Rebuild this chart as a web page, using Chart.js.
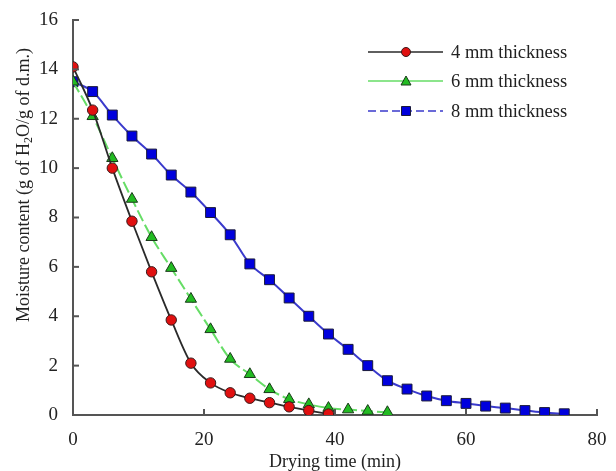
<!DOCTYPE html>
<html lang="en">
<head>
<meta charset="UTF-8">
<title>Drying curves</title>
<script src="https://cdn.jsdelivr.net/npm/chart.js"></script>
<style>
  body { margin: 0; background: #fff; }
  #wrap { width: 616px; height: 471px; }
</style>
</head>
<body>
<div id="wrap"><canvas id="dryChart" width="616" height="471"></canvas></div>
<script>
// drying time (min) and moisture content (g H2O / g d.m.)
var times4 = [0, 3, 6, 9, 12, 15, 18, 21, 24, 27, 30, 33, 36, 39];
var moisture4 = [14.1, 12.35, 10.0, 7.85, 5.8, 3.85, 2.1, 1.3, 0.9, 0.68, 0.5, 0.33, 0.18, 0.04];

var times6 = [0, 3, 6, 9, 12, 15, 18, 21, 24, 27, 30, 33, 36, 39, 42, 45, 48];
var moisture6 = [13.5, 12.1, 10.4, 8.75, 7.2, 5.95, 4.7, 3.47, 2.27, 1.65, 1.04, 0.64, 0.43, 0.28, 0.22, 0.16, 0.11];

var times8 = [0, 3, 6, 9, 12, 15, 18, 21, 24, 27, 30, 33, 36, 39, 42, 45, 48, 51, 54, 57, 60, 63, 66, 69, 72, 75];
var moisture8 = [13.5, 13.1, 12.15, 11.3, 10.57, 9.72, 9.03, 8.2, 7.3, 6.12, 5.48, 4.74, 4.0, 3.28, 2.66, 2.0, 1.39, 1.05, 0.77, 0.58, 0.47, 0.36, 0.28, 0.18, 0.1, 0.05];

var seriesNames = ['4 mm thickness', '6 mm thickness', '8 mm thickness'];
var xTicks = [0, 20, 40, 60, 80];
var yTicks = [0, 2, 4, 6, 8, 10, 12, 14, 16];

var serif = '"Liberation Serif", "Times New Roman", serif';

function pairs(xs, ys) {
    return xs.map(function (x, i) { return { x: x, y: ys[i] }; });
}

// inward ticks, rotated y title with subscript, and the line+marker legend
var extras = {
    id: 'extras',
    afterDraw: function (chart) {
        var ctx = chart.ctx;
        var xs = chart.scales.x, ys = chart.scales.y;
        var area = chart.chartArea;
        ctx.save();
        ctx.strokeStyle = '#555';
        ctx.lineWidth = 2;
        xTicks.forEach(function (v) {
            var px = xs.getPixelForValue(v);
            ctx.beginPath(); ctx.moveTo(px, area.bottom); ctx.lineTo(px, area.bottom - 6); ctx.stroke();
        });
        yTicks.forEach(function (v) {
            var py = ys.getPixelForValue(v);
            ctx.beginPath(); ctx.moveTo(area.left, py); ctx.lineTo(area.left + 6, py); ctx.stroke();
        });
        ctx.restore();

        // y axis title
        ctx.save();
        ctx.translate(24, 185);
        ctx.rotate(-Math.PI / 2);
        ctx.fillStyle = '#222';
        ctx.textBaseline = 'middle';
        var big = '18px ' + serif, small = '12px ' + serif;
        var p1 = 'Moisture content (g of H', p2 = '2', p3 = 'O/g of d.m.)';
        ctx.font = big; var w1 = ctx.measureText(p1).width, w3 = ctx.measureText(p3).width;
        ctx.font = small; var w2 = ctx.measureText(p2).width;
        var start = -(w1 + w2 + w3) / 2;
        ctx.textAlign = 'left';
        ctx.font = big; ctx.fillText(p1, start, 0);
        ctx.font = small; ctx.fillText(p2, start + w1, 5);
        ctx.font = big; ctx.fillText(p3, start + w1 + w2, 0);
        ctx.restore();

        // legend
        var rows = [52, 81, 111];
        ctx.save();
        chart.data.datasets.forEach(function (ds, i) {
            var y = rows[i];
            ctx.strokeStyle = ds.borderColor;
            ctx.lineWidth = 1.5;
            ctx.setLineDash(i === 2 ? [8, 4] : []);
            ctx.beginPath(); ctx.moveTo(368, y); ctx.lineTo(443, y); ctx.stroke();
            ctx.setLineDash([]);
            ctx.fillStyle = ds.pointBackgroundColor;
            ctx.strokeStyle = ds.pointBorderColor;
            ctx.lineWidth = 1;
            ctx.beginPath();
            if (i === 0) {
                ctx.arc(406, y, 4.5, 0, Math.PI * 2);
            } else if (i === 1) {
                ctx.moveTo(406, y - 5); ctx.lineTo(411, y + 4); ctx.lineTo(401, y + 4); ctx.closePath();
            } else {
                ctx.rect(401.5, y - 4.5, 9, 9);
            }
            ctx.fill(); ctx.stroke();
            ctx.fillStyle = '#222';
            ctx.font = '18.5px ' + serif;
            ctx.textAlign = 'left';
            ctx.textBaseline = 'middle';
            ctx.fillText(ds.label, 451, y + 1);
        });
        ctx.restore();
    }
};

var ctx = document.getElementById('dryChart').getContext('2d');
var dryChart = new Chart(ctx, {
    type: 'scatter',
    data: {
        datasets: [
            {
                label: seriesNames[0],
                data: pairs(times4, moisture4),
                showLine: true,
                borderColor: '#2a2a2a',
                borderWidth: 1.8,
                pointStyle: 'circle',
                pointRadius: 5.2,
                pointBackgroundColor: '#e01010',
                pointBorderColor: '#3a1a1a',
                pointBorderWidth: 1,
                cubicInterpolationMode: 'monotone'
            },
            {
                label: seriesNames[1],
                data: pairs(times6, moisture6),
                showLine: true,
                borderColor: '#66dd66',
                borderWidth: 2,
                borderDash: [12, 4],
                pointStyle: 'triangle',
                pointRadius: 6.5,
                pointBackgroundColor: '#22bb22',
                pointBorderColor: '#1a3a1a',
                pointBorderWidth: 1,
                cubicInterpolationMode: 'monotone'
            },
            {
                label: seriesNames[2],
                data: pairs(times8, moisture8),
                showLine: true,
                borderColor: '#3a3acc',
                borderWidth: 2,
                pointStyle: 'rect',
                pointRadius: 7,
                pointBackgroundColor: '#0000dd',
                pointBorderColor: '#1a1a3a',
                pointBorderWidth: 1,
                cubicInterpolationMode: 'monotone'
            }
        ]
    },
    options: {
        responsive: false,
        animation: false,
        layout: { padding: { top: 20, right: 19, left: 0, bottom: 0 } },
        plugins: {
            legend: { display: false },
            tooltip: { enabled: false }
        },
        scales: {
            x: {
                type: 'linear',
                min: 0,
                max: 80,
                grid: { display: false },
                border: { display: true, color: '#555', width: 2 },
                afterBuildTicks: function (scale) { scale.ticks = xTicks.map(function (v) { return { value: v }; }); },
                afterFit: function (scale) { scale.height = 56; },
                ticks: { color: '#222', padding: 6, font: { family: serif, size: 19 } },
                title: {
                    display: true,
                    text: 'Drying time (min)',
                    color: '#222',
                    font: { family: serif, size: 18 },
                    padding: { top: 0, bottom: -2 }
                }
            },
            y: {
                type: 'linear',
                min: 0,
                max: 16,
                grid: { display: false },
                border: { display: true, color: '#555', width: 2 },
                afterBuildTicks: function (scale) { scale.ticks = yTicks.map(function (v) { return { value: v }; }); },
                afterFit: function (scale) { scale.width = 73; },
                ticks: { color: '#222', padding: 7, font: { family: serif, size: 19 } }
            }
        }
    },
    plugins: [extras]
});
</script>
</body>
</html>
